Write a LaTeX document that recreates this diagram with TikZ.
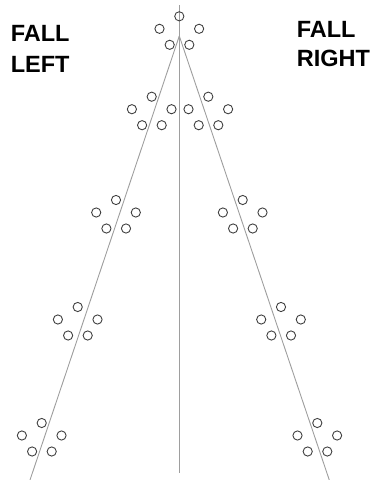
\documentclass[tikz,border=0pt]{standalone}
\usepackage{fontspec}
\setmainfont{Liberation Sans}
\begin{document}
\begin{tikzpicture}[x=1pt,y=-1pt,
  pin/.style={circle,draw=black!75,line width=0.9pt,inner sep=0pt,minimum size=9.2pt},
  guide/.style={draw=black!38,line width=0.9pt},
  lbl/.style={anchor=base west,inner sep=0pt,font=\fontsize{23.5}{28}\selectfont\bfseries}]
\useasboundingbox (0,0) rectangle (377,480);
% guide lines
\coordinate (top) at (179.3,5);
\coordinate (apex) at (179.3,36);
\coordinate (mid) at (179.3,472.7);
\coordinate (lb) at (30,480);
\coordinate (rb) at (329.3,480);
\draw[guide] (top) -- (mid);
\draw[guide] (apex) -- (lb);
\draw[guide] (apex) -- (rb);
% pin clusters
\foreach \n/\x/\y in {c/179.3/16.3, lA/151.7/96.7, rA/208.3/96.7, lB/116/200, rB/242.7/200,
                      lC/77.7/307, rC/281/307, lD/41.7/423, rD/317.3/423}{
  \node[pin] (\n1) at (\x,\y) {};
  \node[pin] (\n2) at (\x-19.8,\y+12.5) {};
  \node[pin] (\n3) at (\x+19.8,\y+12.5) {};
  \node[pin] (\n4) at (\x-9.6,\y+28.5) {};
  \node[pin] (\n5) at (\x+10,\y+28.5) {};
}
% labels
\node[lbl] (fallL) at (10.6,41.7) {FALL};
\node[lbl] (leftL) at (10.6,72.5) {LEFT};
\node[lbl] (fallR) at (296.6,37.3) {FALL};
\node[lbl] (rightR) at (296.6,66.7) {RIGHT};
\end{tikzpicture}
\end{document}
